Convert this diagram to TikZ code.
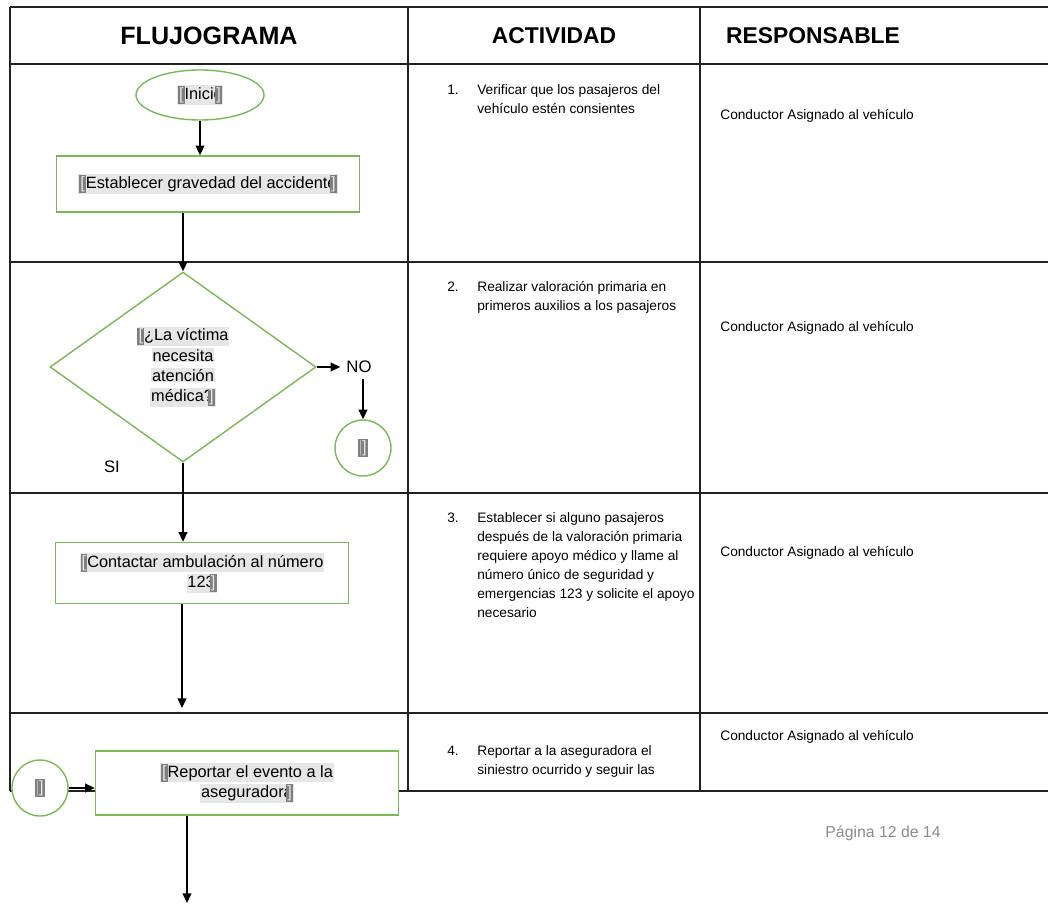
\documentclass[tikz,border=0pt]{standalone}
\usepackage{fontspec}
\setmainfont{Liberation Sans}
\usepackage{xcolor}
\usetikzlibrary{shapes.geometric,arrows.meta}
\definecolor{verdeborde}{HTML}{7AB957}
\definecolor{fondocampo}{HTML}{E6E6E6}
\definecolor{marcacampo}{HTML}{7F7F7F}
\definecolor{lineatabla}{HTML}{222222}
\definecolor{piegris}{HTML}{8C8C8C}

\newcommand{\abre}{{\setlength{\fboxsep}{0.6pt}\colorbox{marcacampo}{\textcolor{fondocampo}{[}}}}
\newcommand{\cierra}{{\setlength{\fboxsep}{0.6pt}\colorbox{marcacampo}{\textcolor{fondocampo}{]}}}}
\newcommand{\campo}[1]{{\setlength{\fboxsep}{0.5pt}\colorbox{fondocampo}{#1}}}

\tikzset{
  forma/.style={draw=verdeborde, line width=0.8pt, fill=white, font=\fontsize{9.3}{11.5}\selectfont, align=center},
  caja/.style={forma, rectangle, inner sep=0pt},
  flecha/.style={-{Triangle[length=5.5pt,width=5pt]}, line width=0.8pt},
  tabla/.style={draw=lineatabla, line width=1pt},
  titulo/.style={font=\fontsize{13}{15}\selectfont\bfseries},
  texto/.style={font=\fontsize{7.8}{10.8}\selectfont, align=left, inner sep=0pt, anchor=north west},
  resp/.style={font=\fontsize{7.8}{10.8}\selectfont, inner sep=0pt, anchor=west},
}

\begin{document}
\begin{tikzpicture}[x=0.02cm, y=-0.02cm, font=\fontsize{9.5}{11.5}\selectfont]
\useasboundingbox (0,0) rectangle (1048,906);

% tabla
\foreach \y in {7,64,262,493,713,791} \draw[tabla] (10,\y) -- (1048,\y);
\foreach \x in {10,408,700} \draw[tabla] (\x,7) -- (\x,791);

\node[titulo, font=\fontsize{14.3}{16}\selectfont\bfseries] (tflujo) at (209,36) {FLUJOGRAMA};
\node[titulo] (tact) at (554,36) {ACTIVIDAD};
\node[titulo] (tresp) at (813,36) {RESPONSABLE};

% actividades
\node[texto] (num1) at (447,81) {\strut 1.};
\node[texto] (act1) at (477,81) {\strut Verificar que los pasajeros del\\ vehículo estén consientes};
\node[texto] (num2) at (447,278) {\strut 2.};
\node[texto] (act2) at (477,278) {\strut Realizar valoración primaria en\\ primeros auxilios a los pasajeros};
\node[texto] (num3) at (447,509) {\strut 3.};
\node[texto] (act3) at (477,509) {\strut Establecer si alguno pasajeros\\ después de la valoración primaria\\ requiere apoyo médico y llame al\\ número único de seguridad y\\ emergencias 123 y solicite el apoyo\\ necesario};
\node[texto] (num4) at (447,742) {\strut 4.};
\node[texto] (act4) at (477,742) {\strut Reportar a la aseguradora el\\ siniestro ocurrido y seguir las};

% responsables
\node[resp] (resp1) at (720,116) {Conductor Asignado al vehículo};
\node[resp] (resp2) at (720,328) {Conductor Asignado al vehículo};
\node[resp] (resp3) at (720,553) {Conductor Asignado al vehículo};
\node[resp] (resp4) at (720,737) {Conductor Asignado al vehículo};

% flujograma
\node[forma, ellipse, minimum width=2.56cm, minimum height=1cm, inner sep=0pt] (inicio) at (200,95) {\campo{\abre Inicio\kern-0.45em\cierra}};
\node[caja, minimum width=6.06cm, minimum height=1.12cm] (gravedad) at (208,184) {\campo{\abre Establecer gravedad del accidente\kern-0.4em\cierra}};
\node[forma, diamond, minimum width=5.32cm, minimum height=3.8cm, inner sep=0pt] (victima) at (183,367) {\campo{\abre¿La víctima}\\ \campo{necesita}\\ \campo{atención}\\ \campo{médica?\kern-0.3em\cierra}};
\node (no) at (359,367) {NO};
\node[forma, circle, minimum size=1.12cm, inner sep=0pt] (conector1) at (363,448) {\abre\kern-0.25em\cierra};
\node (si) at (112,467) {SI};
\node[caja, minimum width=5.86cm, minimum height=1.22cm] (ambulancia) at (202,573) {\campo{\abre Contactar ambulación al número}\\ \campo{123\kern-0.3em\cierra}};
\node[caja, minimum width=6.06cm, minimum height=1.28cm] (reporte) at (247,783) {\campo{\abre Reportar el evento a la}\\ \campo{aseguradora\kern-0.4em\cierra}};
\node[forma, circle, minimum size=1.12cm, inner sep=0pt] (conector2) at (40,788) {\abre\kern-0.25em\cierra};
\coordinate (llegada) at (182,708);
\coordinate (salida) at (187,903);

\draw[flecha] (inicio.south) -- (inicio.south |- gravedad.north);
\draw[flecha] (gravedad.south -| victima.north) -- (victima.north);
\draw[flecha] (victima.east) -- (no.west);
\draw[flecha] (no.south -| conector1.north) -- (conector1.north);
\draw[flecha] (victima.south) -- (victima.south |- ambulancia.north);
\draw[flecha] (ambulancia.south -| llegada) -- (llegada);
\draw[flecha] (conector2.east) -- (conector2.east -| reporte.west);
\draw[flecha] (reporte.south -| salida) -- (salida);

\node[text=piegris, font=\fontsize{9}{11}\selectfont] (pagina) at (883,833) {Página 12 de 14};
\end{tikzpicture}
\end{document}
